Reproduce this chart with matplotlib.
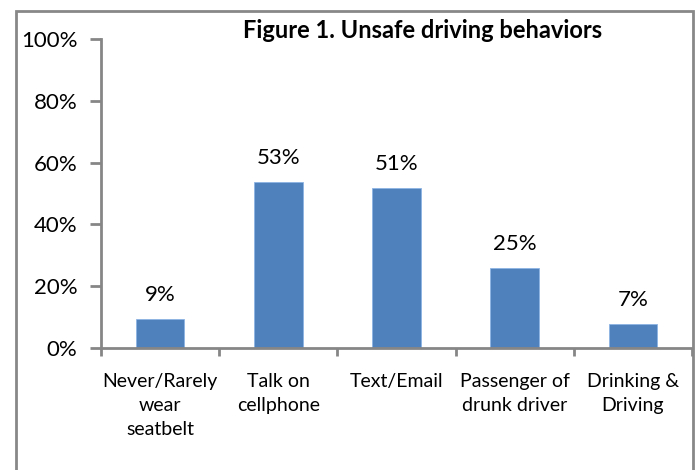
import matplotlib.pyplot as plt
from matplotlib.patches import Rectangle

categories = ["Never/Rarely\nwear\nseatbelt", "Talk on\ncellphone", "Text/Email",
              "Passenger of\ndrunk driver", "Drinking &\nDriving"]
values = [9.4, 53.6, 51.7, 25.9, 7.8]
value_labels = ["9%", "53%", "51%", "25%", "7%"]
yticks = [0, 20, 40, 60, 80, 100]

plt.rcParams['font.family'] = ['Lato', 'DejaVu Sans']

fig = plt.figure(figsize=(6.99, 4.70), dpi=100)
ax = fig.add_axes([0.1445, 0.2596, 0.8455, 0.6574])

x = range(len(values))
bars = ax.bar(x, values, width=0.41, color='#4F81BD', edgecolor='#8EB4E3', linewidth=0.6)
for b, lab in zip(bars, value_labels):
    ax.text(b.get_x() + b.get_width() / 2, b.get_height() + 4.5, lab,
            ha='center', va='bottom', fontsize=16)

ax.set_xlim(-0.5, len(values) - 0.5)
ax.set_ylim(0, 100)
ax.set_yticks(yticks)
ax.set_yticklabels([f"{t}%" for t in yticks], fontsize=16)
ax.set_xticks(list(x))
ax.set_xticklabels(categories, fontsize=14, linespacing=1.5, va='top')
ax.set_xticks([i - 0.5 for i in range(len(values) + 1)], minor=True)
ax.tick_params(axis='x', which='major', length=0, pad=18)
ax.tick_params(axis='x', which='minor', length=6, width=2, color='#868686', direction='out')
ax.tick_params(axis='y', length=8, width=2, color='#868686', pad=9)

for s in ['top', 'right']:
    ax.spines[s].set_visible(False)
for s in ['left', 'bottom']:
    ax.spines[s].set_color('#868686')
    ax.spines[s].set_linewidth(2)

fig.text(0.604, 0.936, "Figure 1. Unsafe driving behaviors", ha='center', va='center',
         fontsize=17, fontweight='bold')

# outer chart frame
fig.patches.append(Rectangle((16 / 699, -0.05), 677 / 699, 1.05 - 11 / 470,
                             transform=fig.transFigure, fill=False,
                             edgecolor='#888888', linewidth=2))

fig.savefig("out.png", dpi=100)
